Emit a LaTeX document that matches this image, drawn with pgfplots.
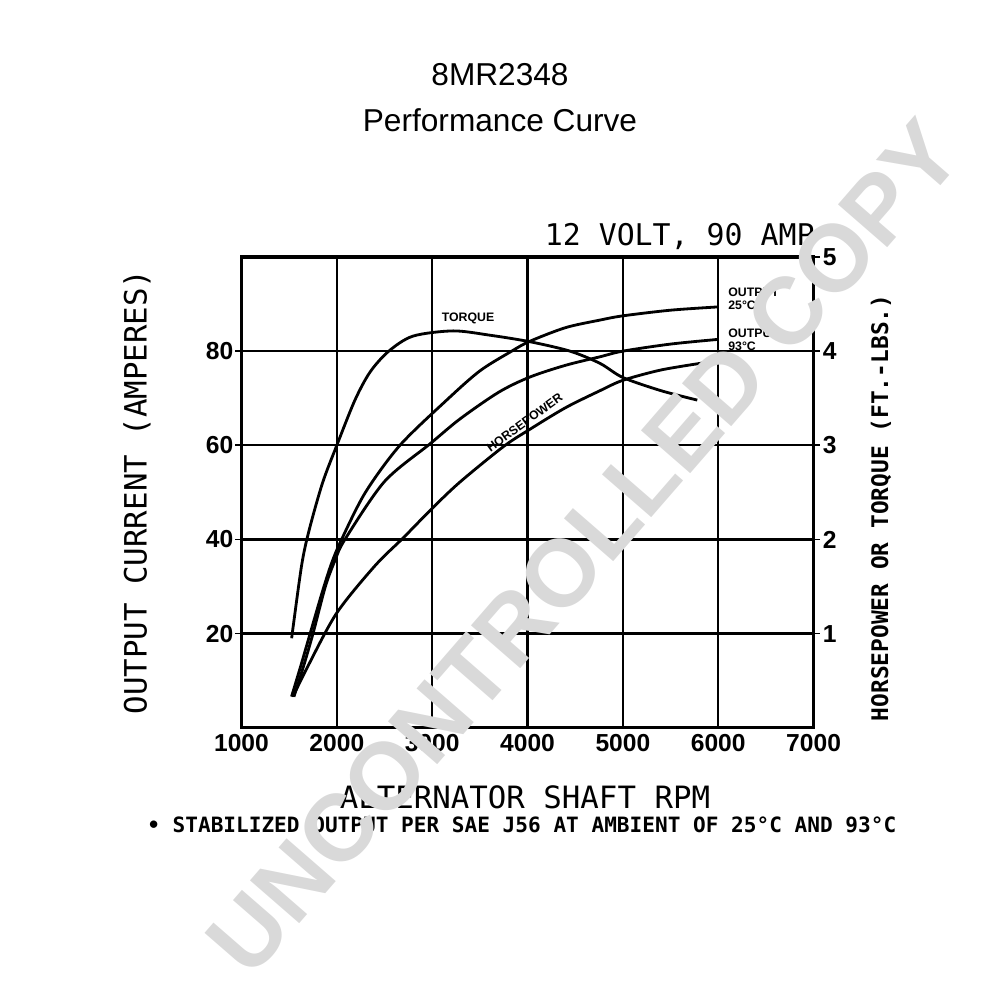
\documentclass[border=0pt]{standalone}
\usepackage{pgfplots}
\pgfplotsset{compat=1.18}
\usepackage{fontspec}
\setmainfont{Liberation Sans}
\newfontfamily\monofont{DejaVu Sans Mono}
\begin{document}
\begin{tikzpicture}
\begin{axis}[
  scale only axis, width=114.42mm, height=94.14mm,
  xmin=1000, xmax=7000, ymin=0, ymax=100,
  xtick={1000,2000,3000,4000,5000,6000,7000},
  ytick={20,40,60,80}, ytick pos=left,
  grid=major, grid style={black, line width=1.3pt},
  axis line style={line width=1.8pt},
  tick align=outside, major tick length=1.2mm,
  tick style={black, line width=1pt},
  xtick style={draw=none},
  ticklabel style={font=\bfseries\fontsize{14}{14}\selectfont},
  xticklabel style={yshift=1.1mm},
  yticklabel style={xshift=0.8mm},
  /pgf/number format/1000 sep={},
  /pgf/number format/assume math mode=true,
  clip=false,
]
\addplot[black, line width=1.6pt, smooth, tension=0.5] coordinates {
 (1525,6.6) (1620,13) (1720,20) (1850,29) (1946,35) (2050,40) (2300,50) (2662,60) (3152,69.6) (3500,75.8) (3834,80) (4025,82.1) (4400,85) (4760,86.6) (5000,87.5) (5500,88.7) (6000,89.4)};
\addplot[black, line width=1.6pt, smooth, tension=0.5] coordinates {
 (1550,6.6) (1650,13) (1750,20) (1880,30) (1980,35.5) (2085,40) (2500,52.3) (2977,60.3) (3292,65.6) (3700,71.3) (4025,74.5) (4400,77) (4760,78.8) (5000,80) (5500,81.5) (6000,82.5)};
\node[font=\bfseries\fontsize{7}{7}\selectfont] at (axis description cs:0.396,0.870) {TORQUE};
\node[font=\bfseries\fontsize{7}{7.5}\selectfont, align=left, anchor=west, inner sep=0pt] at (axis description cs:0.8504,0.9108) {OUTPUT\\25°C};
\node[font=\bfseries\fontsize{7}{7.5}\selectfont, align=left, anchor=west, inner sep=0pt] at (axis description cs:0.8504,0.8237) {OUTPUT\\93°C};
\node[font=\bfseries\fontsize{7}{7}\selectfont, rotate=36] at (axis description cs:0.4948,0.6486) {HORSEPOWER};
\node[font=\monofont\fontsize{17}{17}\selectfont] at (axis description cs:0.766,1.0425) {12 VOLT, 90 AMP};
\node[font=\monofont\fontsize{17.5}{17.5}\selectfont, rotate=90] at (axis description cs:-0.1827,0.5008) {OUTPUT CURRENT (AMPERES)};
\node[font=\monofont\fontsize{17.5}{17.5}\selectfont] at (axis description cs:0.4955,-0.1472) {ALTERNATOR SHAFT RPM};
\node[font=\monofont\bfseries\fontsize{12}{12}\selectfont] at (axis description cs:0.490,-0.2060) {• STABILIZED OUTPUT PER SAE J56 AT AMBIENT OF 25°C AND 93°C};
\node[font=\monofont\bfseries\fontsize{13}{13}\selectfont, rotate=90] at (axis description cs:1.118,0.467) {HORSEPOWER OR TORQUE (FT.-LBS.)};
\node[font=\fontsize{18}{18}\selectfont] at (axis description cs:0.4519,1.3867) {8MR2348};
\node[font=\fontsize{18}{18}\selectfont] at (axis description cs:0.4519,1.2911) {Performance Curve};
\coordinate (wm) at (axis description cs:0.598,0.384);
\coordinate (pgA) at (axis description cs:-0.4221,-0.5785);
\coordinate (pgB) at (axis description cs:1.3258,1.5460);
\end{axis}
\begin{axis}[
  scale only axis, width=114.42mm, height=94.14mm,
  xmin=1000, xmax=7000, ymin=0, ymax=5,
  axis x line=none, axis y line*=right,
  ytick={1,2,3,4,5}, ytick pos=right,
  axis line style={line width=1.8pt},
  tick align=outside, major tick length=1.2mm,
  tick style={black, line width=1pt},
  ticklabel style={font=\bfseries\fontsize{14}{14}\selectfont},
  yticklabel style={xshift=-0.6mm},
  /pgf/number format/assume math mode=true,
]
\addplot[black, line width=1.6pt, smooth, tension=0.5] coordinates {
 (1526,0.95) (1630,1.72) (1710,2.1) (1850,2.6) (2000,3.0) (2190,3.48) (2350,3.78) (2545,4.0) (2800,4.16) (3220,4.215) (3600,4.17) (4025,4.10) (4445,4.0) (4760,3.87) (5000,3.72) (5400,3.58) (5780,3.48)};
\addplot[black, line width=1.6pt, smooth, tension=0.5] coordinates {
 (1540,0.33) (1700,0.66) (2000,1.22) (2400,1.72) (2700,2.02) (3000,2.33) (3292,2.61) (3746,2.985) (4025,3.17) (4400,3.40) (4760,3.58) (5000,3.69) (5400,3.80) (5843,3.875)};
\end{axis}
\node[rotate=49, text=gray!30, font=\bfseries\fontsize{54}{54}\selectfont] at (wm) {UNCONTROLLED COPY};
\pgfresetboundingbox
\path (pgA) rectangle (pgB);
\end{tikzpicture}
\end{document}
